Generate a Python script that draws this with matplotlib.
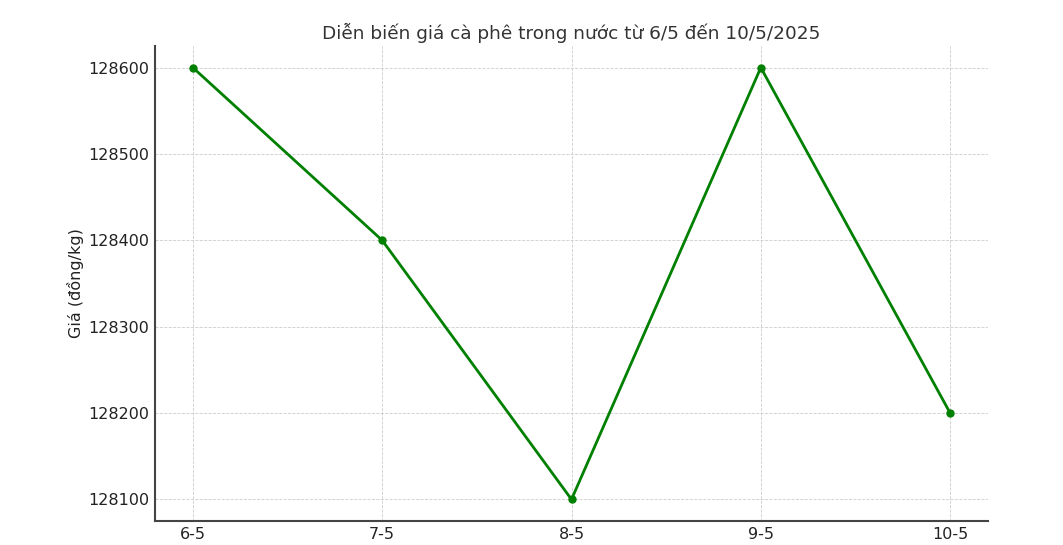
import matplotlib
matplotlib.use("Agg")
import matplotlib.pyplot as plt

dates = ["6-5", "7-5", "8-5", "9-5", "10-5"]
prices = [128600, 128400, 128100, 128600, 128200]

fig = plt.figure(figsize=(10.63, 5.45), dpi=100)
ax = fig.add_axes([155/1063, 1 - 521/545, (988-155)/1063, (521-46)/545])

x = list(range(len(dates)))
ax.plot(x, prices, color="green", linewidth=2, marker="o", markersize=5)
ax.set_xticks(x)
ax.set_xticklabels(dates)
ax.set_yticks([128100, 128200, 128300, 128400, 128500, 128600])

ax.set_title("Diễn biến giá cà phê trong nước từ 6/5 đến 10/5/2025", fontsize=13.3, color="#333333", pad=5)
ax.set_ylabel("Giá (đồng/kg)", fontsize=11.5, color="#222222", labelpad=3)
ax.grid(True, linestyle="--", linewidth=0.6, color="#cccccc")
for s in ["top", "right"]:
    ax.spines[s].set_visible(False)
for s in ["left", "bottom"]:
    ax.spines[s].set_color("#444444")
    ax.spines[s].set_linewidth(1.5)
ax.tick_params(axis="both", length=0, pad=4, labelsize=11.5, labelcolor="#222222")

fig.savefig("out.png", dpi=100)
